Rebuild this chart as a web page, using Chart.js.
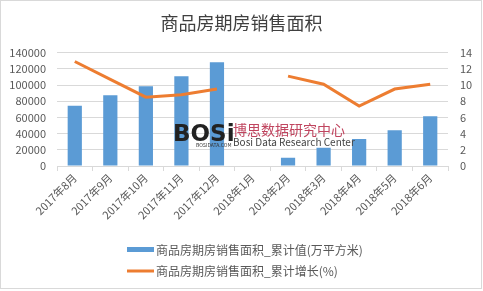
<!DOCTYPE html>
<html>
<head>
<meta charset="utf-8">
<script src="https://cdn.jsdelivr.net/npm/chart.js@4.4.1/dist/chart.umd.min.js"></script>
<style>
  html, body { margin: 0; padding: 0; background: #fff; }
  #wrap { position: relative; width: 483px; height: 291px; }
  #wrap::after { content: ''; position: absolute; left: 0; top: 0; right: 1px; bottom: 2px; border: 1px solid #d9d9d9; pointer-events: none; }
</style>
</head>
<body>
<div id="wrap"><canvas id="chart" width="483" height="291"></canvas></div>
<script>
// 数据
const months = ['2017年8月', '2017年9月', '2017年10月', '2017年11月', '2017年12月', '2018年1月',
                '2018年2月', '2018年3月', '2018年4月', '2018年5月', '2018年6月'];
const areaTotal = [74500, 87500, 98600, 110900, 128100, null, 10200, 22500, 33200, 44200, 61400];
const areaGrowth = [12.9, 10.7, 8.5, 8.8, 9.5, null, 11.1, 10.1, 7.4, 9.5, 10.1];
const leftTicks = [0, 20000, 40000, 60000, 80000, 100000, 120000, 140000];
const rightTicks = [0, 2, 4, 6, 8, 10, 12, 14];

const FONT = '"Noto Sans CJK SC", "Noto Sans", sans-serif';
const TEXT = '#595959';

// 水印
const watermark = {
    id: 'watermark',
    afterDatasetsDraw(chart) {
        const ctx = chart.ctx;
        ctx.save();
        ctx.textBaseline = 'alphabetic';
        ctx.fillStyle = '#222';
        ctx.font = 'bold 23px "DejaVu Sans", sans-serif';
        ctx.fillText('BOSi', 173, 141);
        ctx.fillStyle = '#333';
        ctx.font = '5px ' + FONT;
        ctx.fillText('BOSIDATA.COM', 196, 147);
        ctx.fillStyle = '#c0455f';
        ctx.font = '14px ' + FONT;
        ctx.fillText('博思数据研究中心', 233, 135);
        ctx.fillStyle = '#444';
        ctx.font = '10px ' + FONT;
        ctx.fillText('Bosi Data Research Center', 233, 146);
        ctx.restore();
    }
};

// 图例（竖排）
const stackedLegend = {
    id: 'stackedLegend',
    afterDraw(chart) {
        const ctx = chart.ctx;
        const ds = chart.data.datasets;
        ctx.save();
        ctx.font = '12px ' + FONT;
        ctx.textBaseline = 'middle';
        // 柱
        ctx.fillStyle = ds[0].backgroundColor;
        ctx.fillRect(127, 247, 27, 5);
        ctx.fillStyle = TEXT;
        ctx.fillText(ds[0].label, 156, 250);
        // 线
        ctx.strokeStyle = ds[1].borderColor;
        ctx.lineWidth = 3;
        ctx.beginPath();
        ctx.moveTo(127, 271);
        ctx.lineTo(154, 271);
        ctx.stroke();
        ctx.fillText(ds[1].label, 156, 271);
        ctx.restore();
    }
};

const ctx = document.getElementById('chart').getContext('2d');
new Chart(ctx, {
    type: 'bar',
    data: {
        labels: months,
        datasets: [
            {
                type: 'bar',
                label: '商品房期房销售面积_累计值(万平方米)',
                data: areaTotal,
                backgroundColor: '#5b9bd5',
                yAxisID: 'y',
                barPercentage: 0.4,
                categoryPercentage: 1,
                order: 2
            },
            {
                type: 'line',
                label: '商品房期房销售面积_累计增长(%)',
                data: areaGrowth,
                borderColor: '#ed7d31',
                backgroundColor: '#ed7d31',
                borderWidth: 3,
                pointRadius: 0,
                tension: 0,
                spanGaps: false,
                yAxisID: 'y1',
                order: 1
            }
        ]
    },
    options: {
        responsive: false,
        animation: false,
        devicePixelRatio: 1,
        layout: { padding: { top: 0, bottom: 55, left: 0, right: 0 } },
        plugins: {
            legend: { display: false },
            tooltip: { enabled: false },
            title: {
                display: true,
                text: '商品房期房销售面积',
                color: '#404040',
                font: { family: FONT, size: 18, weight: 'normal' },
                padding: { top: 12, bottom: 19 }
            }
        },
        scales: {
            x: {
                offset: true,
                grid: { display: true, drawOnChartArea: false, offset: true, color: '#d9d9d9', tickLength: 5 },
                border: { color: '#d9d9d9' },
                ticks: {
                    color: TEXT,
                    font: { family: FONT, size: 11 },
                    maxRotation: 45,
                    minRotation: 45,
                    autoSkip: false,
                    padding: 0
                },
                afterFit(scale) { scale.height = 70; }
            },
            y: {
                position: 'left',
                min: 0,
                max: 140000,
                afterBuildTicks(scale) { scale.ticks = leftTicks.map(v => ({ value: v })); },
                grid: { color: '#d9d9d9', drawTicks: false },
                border: { display: false },
                ticks: { color: TEXT, font: { family: FONT, size: 11 }, padding: 11, callback: v => String(v) },
                afterFit(scale) { scale.width = 57; }
            },
            y1: {
                position: 'right',
                min: 0,
                max: 14,
                afterBuildTicks(scale) { scale.ticks = rightTicks.map(v => ({ value: v })); },
                grid: { drawOnChartArea: false, drawTicks: false },
                border: { display: false },
                ticks: { color: TEXT, font: { family: FONT, size: 11 }, padding: 12, callback: v => String(v) },
                afterFit(scale) { scale.width = 35; }
            }
        }
    },
    plugins: [watermark, stackedLegend]
});
</script>
</body>
</html>
